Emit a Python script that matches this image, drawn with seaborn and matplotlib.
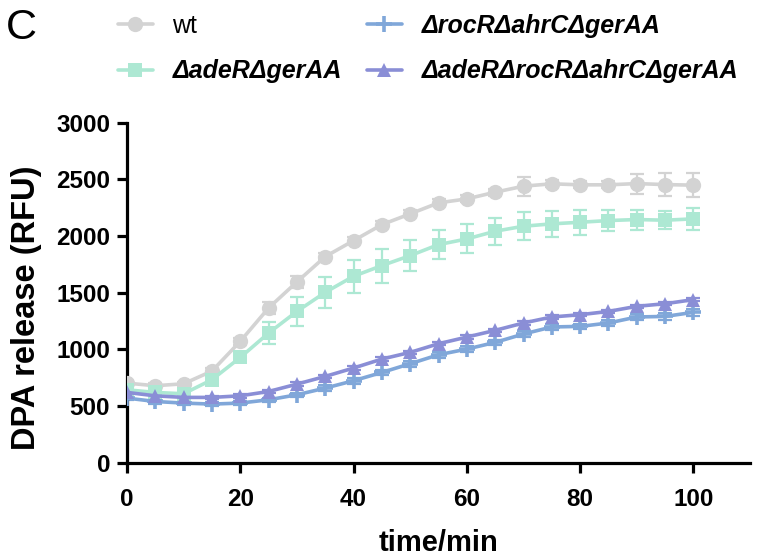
import numpy as np
import pandas as pd
import matplotlib
matplotlib.use("Agg")
import matplotlib.pyplot as plt
import seaborn as sns

time = [0, 5, 10, 15, 20, 25, 30, 35, 40, 45, 50, 55, 60, 65, 70, 75, 80, 85, 90, 95, 100]

wt = [703, 680, 697, 809, 1071, 1365, 1595, 1818, 1959, 2100, 2195,
      2292, 2327, 2386, 2439, 2460, 2451, 2451, 2462, 2453, 2448]
wt_err = [20, 20, 20, 25, 30, 55, 50, 30, 30, 30, 30,
          30, 30, 30, 85, 30, 30, 30, 88, 100, 106]

adeR = [644, 621, 609, 733, 929, 1144, 1335, 1503, 1645, 1739, 1827,
        1924, 1974, 2042, 2086, 2107, 2121, 2136, 2145, 2139, 2151]
adeR_err = [20, 20, 20, 30, 40, 100, 125, 137, 147, 150, 140,
            130, 128, 120, 125, 115, 110, 93, 88, 78, 96]

rocR = [571, 541, 527, 518, 527, 556, 600, 659, 724, 797, 874,
        953, 1003, 1062, 1136, 1198, 1203, 1233, 1286, 1291, 1327]
rocR_err = [20, 20, 20, 20, 20, 20, 20, 25, 25, 25, 25,
            25, 25, 25, 30, 25, 25, 25, 30, 30, 30]

quad = [621, 591, 577, 577, 591, 629, 694, 762, 836, 915, 974,
        1050, 1109, 1168, 1233, 1286, 1306, 1335, 1380, 1403, 1439]
quad_err = [15, 15, 15, 15, 15, 15, 15, 15, 15, 15, 15,
            15, 15, 15, 15, 15, 15, 15, 15, 15, 15]

labels = ["wt", "ΔadeRΔgerAA", "ΔrocRΔahrCΔgerAA", "ΔadeRΔrocRΔahrCΔgerAA"]
colors = ["#D3D3D3", "#ADE8D3", "#80A7D9", "#8A8ED6"]
markers = ["o", "s", "+", "^"]

means = [wt, adeR, rocR, quad]
errs = [wt_err, adeR_err, rocR_err, quad_err]

frames = []
for lab, m, e in zip(labels, means, errs):
    frames.append(pd.DataFrame({"time": time, "value": m, "err": e, "strain": lab}))
df = pd.concat(frames, ignore_index=True)

sns.set_style("ticks")
plt.rcParams["font.family"] = ["Liberation Sans", "DejaVu Sans"]
plt.rcParams["text.color"] = "black"
plt.rcParams["axes.labelcolor"] = "black"
plt.rcParams["xtick.color"] = "black"
plt.rcParams["ytick.color"] = "black"

fig = plt.figure(figsize=(7.6, 5.57), dpi=100)
ax = fig.add_axes([0.167, 0.169, 0.820, 0.611])

for lab, col, mk in zip(labels, colors, markers):
    sub = df[df.strain == lab]
    ax.errorbar(sub["time"], sub["value"], yerr=sub["err"], fmt="none",
                ecolor=col, elinewidth=1.6, capsize=5, capthick=1.6, zorder=2)

msizes = {"o": 11, "s": 10, "+": 11, "^": 10}
for lab, col, mk in zip(labels, colors, markers):
    sub = df[df.strain == lab]
    mew = 2.6 if mk == "+" else 0
    sns.lineplot(data=sub, x="time", y="value", ax=ax, color=col, lw=2.6,
                 marker=mk, markersize=msizes[mk], markeredgewidth=mew,
                 markeredgecolor=col, markerfacecolor=col,
                 label=lab, zorder=3, errorbar=None)

ax.set_xlim(0, 110)
ax.set_ylim(0, 3000)
ax.set_xticks([0, 20, 40, 60, 80, 100])
ax.set_yticks([0, 500, 1000, 1500, 2000, 2500, 3000])
for s in ["top", "right"]:
    ax.spines[s].set_visible(False)
for s in ["left", "bottom"]:
    ax.spines[s].set_linewidth(2.3)
    ax.spines[s].set_color("black")
ax.tick_params(axis="both", width=2.3, length=7, labelsize=17.5,
               labelcolor="black", color="black")
ax.tick_params(axis="x", pad=11)
ax.tick_params(axis="y", pad=5)
for t in ax.get_xticklabels() + ax.get_yticklabels():
    t.set_fontweight("bold")
ax.set_xlabel("time/min", fontsize=21, fontweight="bold", labelpad=13)
ax.set_ylabel("DPA release (RFU)", fontsize=23.5, fontweight="bold")
ax.yaxis.set_label_coords(-0.137, 0.456)

ax.get_legend().remove()
handles, labs = ax.get_legend_handles_labels()
leg = fig.legend(handles, labs, ncol=2, loc="upper left",
                 bbox_to_anchor=(0.125, 1.015), frameon=False, fontsize=18,
                 handlelength=1.4, handletextpad=0.8, columnspacing=1.0,
                 labelspacing=0.85)
for i, t in enumerate(leg.get_texts()):
    t.set_color("black")
    if i == 0:
        t.set_fontweight("normal")
    else:
        t.set_fontweight("bold")
        t.set_fontstyle("italic")

fig.text(0.008, 0.985, "C", fontsize=31, va="top", ha="left", color="black")

fig.savefig("out.png", dpi=100)
